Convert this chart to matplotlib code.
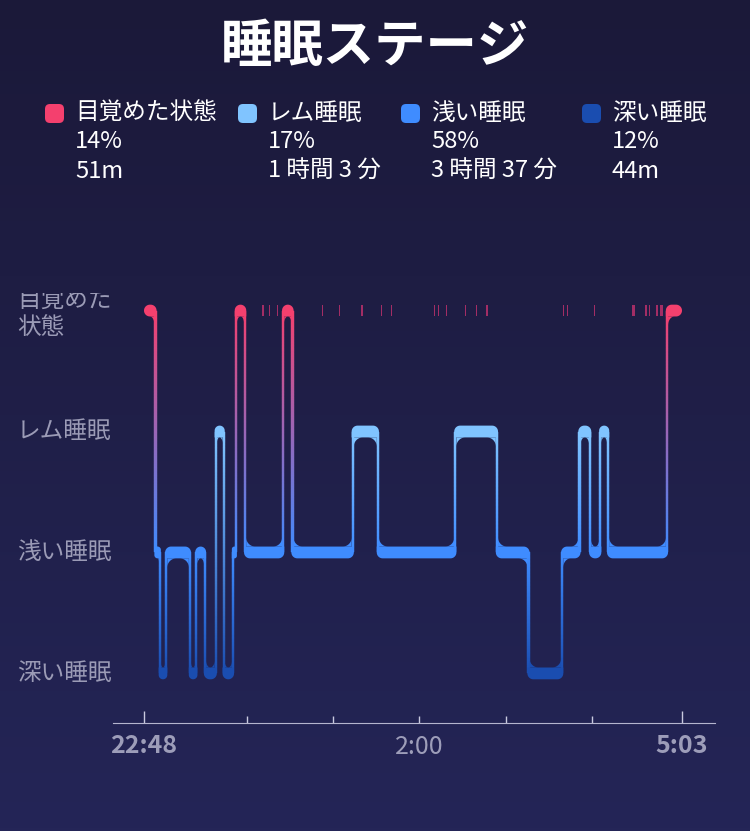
import numpy as np
import matplotlib.pyplot as plt
from matplotlib.patches import Polygon, FancyBboxPatch
from matplotlib.collections import PolyCollection
from matplotlib.colors import to_rgb, LinearSegmentedColormap

plt.rcParams['font.family'] = ['Noto Sans CJK JP', 'DejaVu Sans']

# ステージ (0=深い, 1=浅い, 2=レム, 3=目覚め)
stage_labels = ['深い睡眠', '浅い睡眠', 'レム睡眠', '目覚めた状態']
stage_colors = ['#1a4db0', '#3f8cff', '#80c4ff', '#f4406e']

# 凡例
legend_stage = [3, 2, 1, 0]
legend_pct = ['14%', '17%', '58%', '12%']
legend_time = ['51m', '1 時間 3 分', '3 時間 37 分', '44m']

# 各区間の開始 (22:48 からの分) とステージ
seg_start = [0, 8, 11, 15.5, 32, 36.5, 42.5, 50, 55.5, 62, 64, 70.5, 97,
             103.5, 145.5, 163, 217, 246, 268, 291.5, 303.5, 311, 318, 323.5, 364.5]
seg_stage = [3, 1, 0, 1, 0, 1, 0, 2, 0, 1, 3, 1, 3,
             1, 2, 1, 2, 1, 0, 1, 2, 1, 2, 1, 3]
night_end = 375

# 短い目覚め (上段の細い線)
wake_start = [82.6, 87.1, 92.4, 124.1, 135.9, 151.6, 165.4, 172.4, 202.3, 205.1, 210.3,
              224.0, 231.1, 238.7, 291.8, 294.8, 313.9, 340.1, 349.4, 351.8, 356.8, 359.6]
wake_len = [0.5, 0.5, 0.5, 0.5, 0.5, 0.5, 0.5, 0.5, 0.5, 0.5, 0.5,
            0.5, 0.5, 0.5, 0.5, 0.5, 0.5, 1.9, 1.4, 0.9, 1.4, 1.9]

tick_major = [0, 375]
tick_major_lab = ['22:48', '5:03']
tick_minor = [72, 132, 192, 252, 312]
tick_minor_lab = ['', '', '2:00', '', '']

W, H = 750, 831
fig = plt.figure(figsize=(W / 100, H / 100), dpi=100)

# 背景グラデーション + タイトル/凡例用
bg = fig.add_axes([0, 0, 1, 1])
cmap_bg = LinearSegmentedColormap.from_list('bg', ['#1b1939', '#242557'])
bg.imshow(np.linspace(0, 1, 256)[:, None], cmap=cmap_bg, aspect='auto', extent=[0, W, H, 0])
bg.set_xlim(0, W)
bg.set_ylim(H, 0)
bg.axis('off')

bg.text(W / 2, 47, '睡眠ステージ', color='white', fontsize=37, fontweight='bold',
        ha='center', va='center')

leg_x = [45, 238, 401, 582]
for j, s in enumerate(legend_stage):
    bg.add_patch(FancyBboxPatch((leg_x[j], 104), 19, 19, boxstyle='round,pad=0,rounding_size=5',
                                fc=stage_colors[s], ec='none'))
    tx = leg_x[j] + 30
    bg.text(tx, 113, stage_labels[s], color='white', fontsize=17, va='center')
    bg.text(tx, 142, legend_pct[j], color='white', fontsize=17, va='center')
    bg.text(tx, 171, legend_time[j], color='white', fontsize=17, va='center')

# メインのグラフ
ax_l, ax_r, ax_t, ax_b = 113, 715, 290, 723
ax = fig.add_axes([ax_l / W, 1 - ax_b / H, (ax_r - ax_l) / W, (ax_b - ax_t) / H])
ax.set_facecolor('none')
ax.set_xlim(-21.6, 398)
ax.set_ylim(-0.41, 3.17)

p0 = ax.transData.transform((0, 0))
p1 = ax.transData.transform((1, 1))
sx, sy = p1 - p0  # px / 単位

ro, ri, hh, cw = 6.0, 9.0, 5.9, 2.2  # px
wx, hy = cw / sx, hh / sy


def arc(cx, cy, r, a0, a1, n=12):
    a = np.radians(np.linspace(a0, a1, n))
    return np.column_stack([cx + r * np.cos(a) / sx, cy + r * np.sin(a) / sy])


def band(x0, x1, y, bl, br, tr, tl):
    yb, yt = y - hy, y + hy
    pts = [arc(x0 + bl / sx, yb + bl / sy, bl, 180, 270) if bl else [[x0, yb]],
           arc(x1 - br / sx, yb + br / sy, br, 270, 360) if br else [[x1, yb]],
           arc(x1 - tr / sx, yt - tr / sy, tr, 0, 90) if tr else [[x1, yt]],
           arc(x0 + tl / sx, yt - tl / sy, tl, 90, 180) if tl else [[x0, yt]]]
    return np.vstack(pts)


def fillet(xc, yc, dx, dy, rx, ry, color):
    cx, cy = xc + dx * rx / sx, yc + dy * ry / sy
    phi = np.linspace(0, np.pi / 2, 16)
    pts = np.column_stack([cx - dx * rx / sx * np.sin(phi), cy - dy * ry / sy * np.cos(phi)])
    ax.add_patch(Polygon(np.vstack([[xc, yc], pts]), closed=True, fc=color, ec='none', zorder=3))


ends = seg_start[1:] + [night_end]
n = len(seg_start)

# 帯
for i in range(n):
    s = seg_stage[i]
    x0 = seg_start[i] - (wx / 2 if i > 0 else 0)
    x1 = ends[i] + (wx / 2 if i < n - 1 else 0)
    r = min(ro, (x1 - x0) * sx / 2, hh)
    bl = br = tr = tl = r
    if i > 0:
        if seg_stage[i - 1] > s:
            tl = 0
        else:
            bl = 0
    if i < n - 1:
        if seg_stage[i + 1] > s:
            tr = 0
        else:
            br = 0
    ax.add_patch(Polygon(band(x0, x1, s, bl, br, tr, tl), closed=True,
                         fc=stage_colors[s], ec='none', zorder=3))

# 接続線 (グラデーション) と角の丸み
polys, cols = [], []
for i in range(n - 1):
    a, b = seg_stage[i], seg_stage[i + 1]
    xb = ends[i]
    lo, hi = min(a, b), max(a, b)
    ys = np.linspace(lo, hi, 90)
    c_lo, c_hi = np.array(to_rgb(stage_colors[lo])), np.array(to_rgb(stage_colors[hi]))
    for k in range(len(ys) - 1):
        f = (k + 0.5) / (len(ys) - 1)
        polys.append([(xb - wx / 2, ys[k]), (xb + wx / 2, ys[k]),
                      (xb + wx / 2, ys[k + 1]), (xb - wx / 2, ys[k + 1])])
        cols.append(c_lo * (1 - f) + c_hi * f)

    wa = (ends[i] - seg_start[i]) * sx - cw
    wb = (ends[i + 1] - seg_start[i + 1]) * sx - cw
    rxa = min(ri, max(wa, 0) / 2)
    rxb = min(ri, max(wb, 0) / 2)
    if a > b:
        fillet(xb - wx / 2, a - hy, -1, -1, rxa, min(ri, rxa + 3), stage_colors[a])
        fillet(xb + wx / 2, b + hy, 1, 1, rxb, min(ri, rxb + 3), stage_colors[b])
    else:
        fillet(xb - wx / 2, a + hy, -1, 1, rxa, min(ri, rxa + 3), stage_colors[a])
        fillet(xb + wx / 2, b - hy, 1, -1, rxb, min(ri, rxb + 3), stage_colors[b])

ax.add_collection(PolyCollection(polys, facecolors=cols, edgecolors=cols,
                                 linewidths=0.3, zorder=2))

# 短い目覚め
ax.bar(wake_start, 2 * hy, width=np.maximum(wake_len, 1.1 / sx), bottom=3 - hy,
       align='edge', color='#a32d65', linewidth=0, zorder=3)

# x 軸
ax.set_xticks(tick_major, tick_major_lab)
ax.set_xticks(tick_minor, tick_minor_lab, minor=True)
ax.tick_params(axis='x', which='both', direction='in', colors='#c9c9df',
               labelcolor='#9d9db9', labelsize=18, pad=8, width=1)
ax.tick_params(axis='x', which='major', length=8.6)
ax.tick_params(axis='x', which='minor', length=5)
for lab in ax.get_xticklabels():
    lab.set_fontweight('bold')
ax.set_yticks([])
for sp in ['top', 'left', 'right']:
    ax.spines[sp].set_visible(False)
ax.spines['bottom'].set_color('#b5b5cf')

# y ラベル (上端で切れる)
lab_top = 293
axl = fig.add_axes([0, 1 - ax_b / H, ax_l / W, (ax_b - lab_top) / H])
axl.set_xlim(0, 1)
axl.set_ylim(-0.41, 3.17 - (lab_top - ax_t) / sy)
axl.axis('off')
for s, lab in enumerate(stage_labels):
    txt = lab if len(lab) <= 4 else lab[:4] + '\n' + lab[4:]
    dy = 3 / sy if '\n' in txt else 0
    axl.text(17 / ax_l, s - dy, txt, color='#9b9bb6', fontsize=17, va='center', ha='left',
             linespacing=1.22, clip_on=True)

fig.savefig('out.png', dpi=100)
